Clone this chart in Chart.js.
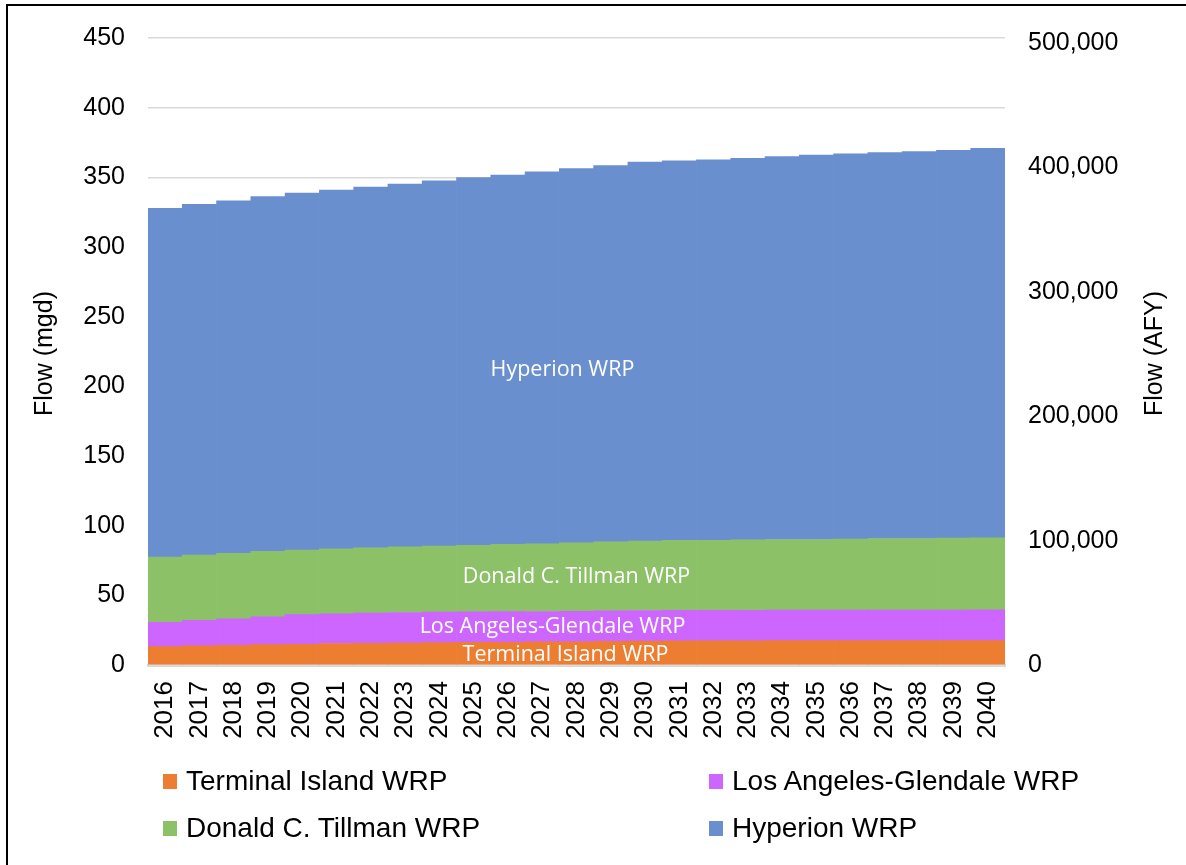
<!DOCTYPE html>
<html>
<head>
<meta charset="utf-8">
<script src="https://cdn.jsdelivr.net/npm/chart.js@4"></script>
<style>
  html, body { margin: 0; padding: 0; background: #fff; overflow: hidden; }
  #wrap { position: relative; width: 1186px; height: 865px; }
  #frame { position: absolute; left: 6px; top: 4px; width: 1300px; height: 1000px; border: 2px solid #000; box-sizing: border-box; }
  canvas { position: absolute; left: 0; top: 0; }
  #legend { position: absolute; left: 0; top: 0; font-family: "Liberation Sans", Arial, sans-serif; font-size: 28px; color: #000; }
  .item { position: absolute; display: flex; align-items: center; white-space: nowrap; }
  .box { width: 14px; height: 15px; margin-right: 9px; }
</style>
</head>
<body>
<div id="wrap">
  <div id="frame"></div>
  <canvas id="chart" width="1186" height="865"></canvas>
  <div id="legend"></div>
</div>
<script>
// Years on the x axis
const years = ['2016', '2017', '2018', '2019', '2020', '2021', '2022', '2023', '2024', '2025',
               '2026', '2027', '2028', '2029', '2030', '2031', '2032', '2033', '2034', '2035',
               '2036', '2037', '2038', '2039', '2040'];

// Flow per plant (mgd)
const terminalIsland = [13.2, 13.7, 14.2, 14.6, 14.9, 15.4, 15.6, 15.8, 16.1, 16.3, 16.3, 16.6, 16.7,
                        17.0, 17.2, 17.3, 17.4, 17.4, 17.5, 17.5, 17.5, 17.5, 17.5, 17.5, 17.5];
const laGlendale = [17.4, 18.3, 19.0, 20.0, 21.2, 21.4, 21.7, 21.9, 21.9, 21.9, 22.0, 21.8, 21.9,
                    21.9, 21.9, 21.9, 21.9, 21.9, 21.9, 21.9, 21.9, 22.0, 22.0, 22.0, 22.1];
const tillman = [46.9, 46.9, 46.9, 47.0, 46.4, 46.6, 46.8, 47.2, 47.4, 47.7, 48.3, 48.6, 49.0,
                 49.5, 49.8, 50.2, 50.1, 50.6, 50.7, 50.7, 51.0, 51.3, 51.3, 51.6, 51.7];
const hyperion = [250.2, 251.7, 253.1, 254.5, 256.2, 257.5, 258.9, 260.2, 262.1, 264.0, 265.0, 266.9, 268.7,
                  270.0, 272.0, 272.4, 273.1, 273.8, 274.8, 275.8, 276.4, 276.9, 277.6, 278.3, 279.6];

const seriesNames = ['Terminal Island WRP', 'Los Angeles-Glendale WRP', 'Donald C. Tillman WRP', 'Hyperion WRP'];
const seriesColors = ['#ED7D31', '#CC66FF', '#8CC168', '#6A8FCF'];

// Axis ranges and tick labels
const mgdMax = 450;
const mgdStep = 50;
const afyPerMgd = 1120.14;
const afyTicks = [0, 100000, 200000, 300000, 400000, 500000];

// In-chart labels sit at this year, nudged a bit
const labelIndex = 12;
const labelNudge = [{dx: -11, dy: 2}, {dx: -24, dy: 0}, {dx: 0, dy: 0}, {dx: -14, dy: 14}];

const font = '"Liberation Sans", Arial, sans-serif';

const seriesLabels = {
    id: 'seriesLabels',
    afterDatasetsDraw(chart) {
        const ctx = chart.ctx;
        const xs = chart.scales.x;
        const ys = chart.scales.y;
        const area = chart.chartArea;
        ctx.save();
        ctx.beginPath();
        ctx.rect(area.left, area.top, area.right - area.left, area.bottom - area.top);
        ctx.clip();
        ctx.fillStyle = '#fff';
        ctx.font = '21.5px "Open Sans", sans-serif';
        ctx.textAlign = 'center';
        ctx.textBaseline = 'middle';
        let base = 0;
        chart.data.datasets.forEach((ds, i) => {
            const v = ds.data[labelIndex];
            const mid = base + v / 2;
            base += v;
            ctx.fillText(ds.label, xs.getPixelForValue(labelIndex) + labelNudge[i].dx,
                         ys.getPixelForValue(mid) + labelNudge[i].dy);
        });
        ctx.restore();
    },
    afterDraw(chart) {
        // both axis titles read bottom to top
        const ctx = chart.ctx;
        const area = chart.chartArea;
        const cy = (area.top + area.bottom) / 2 + 2;
        ctx.save();
        ctx.fillStyle = '#000';
        ctx.font = '25px ' + font;
        ctx.textAlign = 'center';
        ctx.textBaseline = 'middle';
        [[45, 'Flow (mgd)'], [1155, 'Flow (AFY)']].forEach(([x, t]) => {
            ctx.save();
            ctx.translate(x, cy);
            ctx.rotate(-Math.PI / 2);
            ctx.fillText(t, 0, 0);
            ctx.restore();
        });
        ctx.restore();
    }
};

const datasets = [terminalIsland, laGlendale, tillman, hyperion].map((d, i) => ({
    label: seriesNames[i],
    data: d,
    backgroundColor: seriesColors[i],
    borderWidth: 0,
    barPercentage: 1,
    categoryPercentage: 1,
    yAxisID: 'y'
}));

const chart = new Chart(document.getElementById('chart').getContext('2d'), {
    type: 'bar',
    data: { labels: years, datasets: datasets },
    options: {
        responsive: false,
        devicePixelRatio: 1,
        animation: false,
        layout: { padding: { top: 35, left: 0, right: 0, bottom: 0 } },
        plugins: {
            legend: { display: false },
            tooltip: { enabled: false }
        },
        scales: {
            x: {
                stacked: true,
                grid: { display: false, drawTicks: false },
                border: { display: true, color: '#d9d9d9', width: 3 },
                ticks: {
                    color: '#000',
                    font: { family: font, size: 26 },
                    minRotation: 90,
                    maxRotation: 90,
                    padding: 16,
                    autoSkip: false
                },
                afterFit(scale) { scale.height = 200; }
            },
            y: {
                stacked: true,
                position: 'left',
                min: 0,
                max: mgdMax,
                grid: { color: '#d9d9d9', lineWidth: 1.5, drawTicks: false },
                border: { display: false },
                ticks: {
                    stepSize: mgdStep,
                    color: '#000',
                    font: { family: font, size: 25 },
                    padding: 23
                },
                afterFit(scale) { scale.width = 148; }
            },
            y1: {
                position: 'right',
                min: 0,
                max: mgdMax * afyPerMgd,
                grid: { display: false, drawTicks: false },
                border: { display: false },
                afterBuildTicks(scale) {
                    scale.ticks = afyTicks.map(v => ({ value: v }));
                },
                ticks: {
                    color: '#000',
                    font: { family: font, size: 25 },
                    padding: 23,
                    callback: v => v.toLocaleString('en-US')
                },
                afterFit(scale) { scale.width = 181; }
            }
        }
    },
    plugins: [seriesLabels]
});

// Legend in a two column grid like the original
const legendSpots = [[163, 782], [709, 782], [163, 829], [709, 829]];
const legend = document.getElementById('legend');
seriesNames.forEach((name, i) => {
    const item = document.createElement('div');
    item.className = 'item';
    item.style.left = legendSpots[i][0] + 'px';
    item.style.top = (legendSpots[i][1] - 17) + 'px';
    item.innerHTML = `<span class="box" style="background:${seriesColors[i]}"></span><span>${name}</span>`;
    legend.appendChild(item);
});
</script>
</body>
</html>
